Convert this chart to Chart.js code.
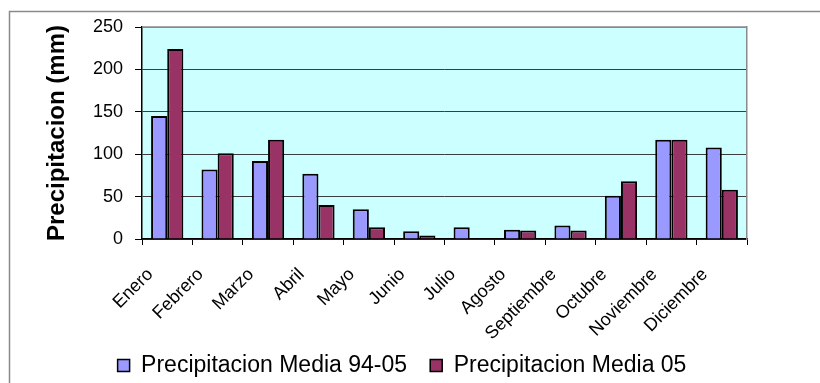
<!DOCTYPE html>
<html>
<head>
<meta charset="utf-8">
<script src="https://cdn.jsdelivr.net/npm/chart.js@4/dist/chart.umd.min.js"></script>
<style>
  html, body { margin: 0; padding: 0; background: #ffffff; }
  #wrap { width: 820px; height: 383px; position: relative; }
</style>
</head>
<body>
<div id="wrap"><canvas id="grafico" width="820" height="383"></canvas></div>
<script>
// Precipitación mensual (mm)
const meses = ['Enero', 'Febrero', 'Marzo', 'Abril', 'Mayo', 'Junio', 'Julio',
               'Agosto', 'Septiembre', 'Octubre', 'Noviembre', 'Diciembre'];
const media9405 = [145, 82, 92, 77, 35, 9, 14, 11, 16, 51, 117, 108];
const media05   = [224, 101, 117, 40, 14, 4, 0, 10, 10, 68, 117, 58];
const ticksY    = [0, 50, 100, 150, 200, 250];

const FUENTE = "'Liberation Sans', Arial, sans-serif";

// Fondo del área de trazado y marco exterior
const marco = {
  id: 'marco',
  beforeDraw(chart) {
    const { ctx, chartArea: a } = chart;
    ctx.save();
    ctx.fillStyle = '#CCFFFF';
    ctx.fillRect(a.left, a.top, a.right - a.left, a.bottom - a.top);
    ctx.restore();
  },
  afterDraw(chart) {
    const { ctx, chartArea: a } = chart;
    ctx.save();
    ctx.strokeStyle = '#8a8a8a';
    ctx.lineWidth = 1.5;
    ctx.beginPath();
    ctx.moveTo(a.left, a.top);
    ctx.lineTo(a.right, a.top);
    ctx.stroke();
    ctx.beginPath();
    ctx.moveTo(9.5, chart.height);
    ctx.lineTo(9.5, 11.5);
    ctx.lineTo(chart.width, 11.5);
    ctx.stroke();
    ctx.restore();
  }
};

new Chart(document.getElementById('grafico'), {
  type: 'bar',
  data: {
    labels: meses,
    datasets: [
      {
        label: 'Precipitacion Media 94-05',
        data: media9405,
        backgroundColor: '#9999FF',
        borderColor: '#000000',
        borderWidth: 2
      },
      {
        label: 'Precipitacion Media 05',
        data: media05,
        backgroundColor: '#993366',
        borderColor: '#000000',
        borderWidth: 2
      }
    ]
  },
  options: {
    responsive: false,
    animation: false,
    layout: { padding: { top: 27, right: 16, bottom: -4, left: 0 } },
    datasets: { bar: { categoryPercentage: 0.64, barPercentage: 1.0 } },
    plugins: {
      legend: {
        position: 'bottom',
        labels: {
          font: { family: FUENTE, size: 23 },
          color: '#000',
          boxWidth: 12,
          boxHeight: 12,
          padding: 4,
          generateLabels(chart) {
            const items = Chart.defaults.plugins.legend.labels.generateLabels(chart);
            items.forEach((it, i) => {
              it.lineWidth = 1.5;
              it.strokeStyle = '#000';
              if (i < items.length - 1) it.text = it.text + '   ';
            });
            return items;
          }
        }
      },
      tooltip: { enabled: false }
    },
    scales: {
      x: {
        afterFit(s) { s.height = 111; },
        grid: {
          display: true,
          drawOnChartArea: false,
          drawTicks: true,
          tickLength: 6,
          color: '#000',
          offset: true
        },
        border: { color: '#000', width: 1.5 },
        ticks: {
          minRotation: 45,
          maxRotation: 45,
          autoSkip: false,
          padding: 19,
          labelOffset: -17,
          color: '#000',
          font: { family: FUENTE, size: 18 }
        }
      },
      y: {
        min: 0,
        max: 250,
        afterFit(s) { s.width = 142; },
        afterBuildTicks(s) { s.ticks = ticksY.map(v => ({ value: v })); },
        grid: {
          color: c => (c.tick && c.tick.value === 250 ? '#8a8a8a' : '#3c3c3c'),
          lineWidth: 1,
          tickColor: '#000',
          tickLength: 7
        },
        border: { color: '#000', width: 1.5 },
        ticks: {
          padding: 12,
          color: '#000',
          font: { family: FUENTE, size: 18 }
        },
        title: {
          display: true,
          text: 'Precipitacion (mm)',
          color: '#000',
          font: { family: FUENTE, size: 24, weight: 'bold' },
          padding: { top: 43, bottom: 0 }
        }
      },
      yDer: {
        position: 'right',
        min: 0,
        max: 250,
        afterFit(s) { s.width = 57; },
        grid: { display: false, drawTicks: false },
        ticks: { display: false },
        border: { color: '#8a8a8a', width: 1.5 }
      }
    }
  },
  plugins: [marco]
});
</script>
</body>
</html>
